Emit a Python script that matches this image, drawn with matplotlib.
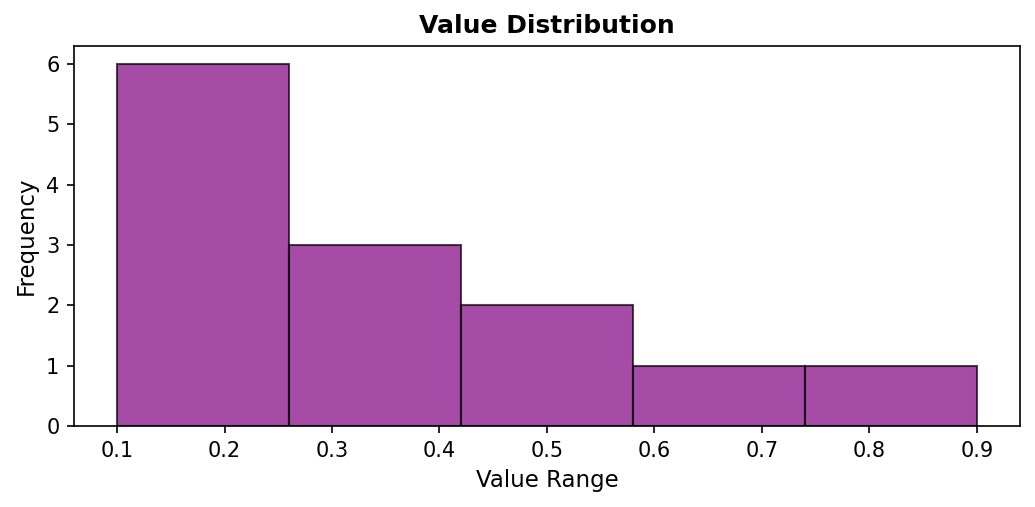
import matplotlib
matplotlib.use("Agg")
import matplotlib.pyplot as plt
import numpy as np

bin_edges = [0.1, 0.26, 0.42, 0.58, 0.74, 0.9]
counts = [6, 3, 2, 1, 1]
xticks = [0.1, 0.2, 0.3, 0.4, 0.5, 0.6, 0.7, 0.8, 0.9]

fig, ax = plt.subplots(figsize=(6.9, 3.38), dpi=150)
edges = np.array(bin_edges)
ax.bar(edges[:-1], counts, width=np.diff(edges), align='edge',
       color='purple', alpha=0.7, edgecolor='black', linewidth=1)
ax.set_xticks(xticks)
ax.set_title('Value Distribution', fontweight='bold', fontsize=12)
ax.set_xlabel('Value Range', fontsize=11)
ax.set_ylabel('Frequency', fontsize=11)
fig.subplots_adjust(left=0.0715, right=0.9855, top=0.9093, bottom=0.1598)
fig.savefig('out.png', dpi=150)
